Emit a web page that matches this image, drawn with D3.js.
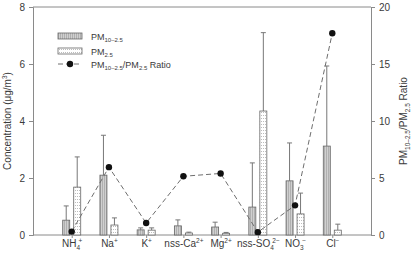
<!DOCTYPE html>
<html>
<head>
<meta charset="utf-8">
<script src="https://cdn.jsdelivr.net/npm/d3@7"></script>
<style>
body{margin:0;background:#fff;}
svg{font-family:"Liberation Sans",Arial,sans-serif;}
</style>
</head>
<body>
<svg id="chart" width="415" height="257"></svg>
<script>
// ions on the x axis: [base, sub, sup]
var ions = [
	["NH", "4", "+"],
	["Na", "", "+"],
	["K", "", "+"],
	["nss-Ca", "", "2+"],
	["Mg", "", "2+"],
	["nss-SO", "4", "2\u2212"],
	["NO", "3", "\u2212"],
	["Cl", "", "\u2212"]
];
var coarse = [0.52, 2.1, 0.18, 0.32, 0.28, 0.98, 1.9, 3.12];
var coarseErr = [1.02, 3.5, 0.25, 0.53, 0.45, 2.53, 3.23, 5.93];
var fine = [1.68, 0.35, 0.17, 0.07, 0.06, 4.35, 0.74, 0.17];
var fineErr = [2.74, 0.6, 0.25, 0.1, 0.09, 7.1, 1.47, 0.38];
var ratio = [0.3, 5.95, 1.05, 5.15, 5.4, 0.25, 2.6, 17.7];
var leftTicks = [0, 2, 4, 6, 8];
var rightTicks = [0, 5, 10, 15, 20];

var svg = d3.select("#chart");
var L = 33, R = 371, T = 7, B = 235;
var axisCol = "#8a8a8a", textCol = "#3a3a3a";

var defs = svg.append("defs");
var p1 = defs.append("pattern").attr("id", "hatch").attr("patternUnits", "userSpaceOnUse")
	.attr("width", 2).attr("height", 2);
p1.append("rect").attr("width", 2).attr("height", 2).attr("fill", "#d0d0d0");
p1.append("rect").attr("width", 1).attr("height", 2).attr("fill", "#b0b0b0");
var p2 = defs.append("pattern").attr("id", "dots").attr("patternUnits", "userSpaceOnUse")
	.attr("width", 2).attr("height", 3);
p2.append("rect").attr("width", 2).attr("height", 3).attr("fill", "#fff");
p2.append("rect").attr("x", 1).attr("y", 1).attr("width", 1).attr("height", 1).attr("fill", "#bdbdbd");

var x = d3.scalePoint().domain(d3.range(ions.length)).range([L, R]).padding(1.04);
var y = d3.scaleLinear().domain([0, 8]).range([B, T]);
var y2 = d3.scaleLinear().domain([0, 20]).range([B, T]);

// frame top line
svg.append("line").attr("x1", L).attr("x2", R).attr("y1", T).attr("y2", T)
	.attr("stroke", axisCol);

var gl = svg.append("g").attr("transform", "translate(" + L + ",0)")
	.call(d3.axisLeft(y).tickValues(leftTicks).tickSize(4).tickPadding(4));
var gr = svg.append("g").attr("transform", "translate(" + R + ",0)")
	.call(d3.axisRight(y2).tickValues(rightTicks).tickSize(4).tickPadding(4));
var gx = svg.append("g").attr("transform", "translate(0," + B + ")")
	.call(d3.axisBottom(x).tickSize(3).tickFormat(""));
[gl, gr, gx].forEach(function(g){
	g.select(".domain").attr("stroke", axisCol);
	g.selectAll(".tick line").attr("stroke", axisCol);
	g.selectAll("text").attr("fill", textCol).style("font-size", "10px");
});
gx.select(".domain").attr("d", "M" + L + ",0H" + R);

// x labels
gx.selectAll(".tick").each(function(d){
	var t = d3.select(this).append("text").attr("y", 12).attr("fill", textCol)
		.attr("text-anchor", "middle").style("font-size", "10px");
	var ion = ions[d];
	t.append("tspan").text(ion[0]);
	if (ion[1]) t.append("tspan").attr("dy", 3).style("font-size", "6.5px").text(ion[1]);
	var sup = t.append("tspan").attr("dy", ion[1] ? -7 : -4).style("font-size", "6.5px").text(ion[2]);
	if (ion[1]) sup.attr("dx", -1.5);
});

// bars
var bw = 7, gap = 2;
var g = svg.append("g");
function drawBars(vals, errs, off, fill){
	g.selectAll(null).data(vals).enter().append("line")
		.attr("x1", function(d, i){ return x(i) + off + bw / 2; })
		.attr("x2", function(d, i){ return x(i) + off + bw / 2; })
		.attr("y1", function(d){ return y(d); })
		.attr("y2", function(d, i){ return y(errs[i]); })
		.attr("stroke", "#777");
	g.selectAll(null).data(vals).enter().append("line")
		.attr("x1", function(d, i){ return x(i) + off + bw / 2 - 2.5; })
		.attr("x2", function(d, i){ return x(i) + off + bw / 2 + 2.5; })
		.attr("y1", function(d, i){ return y(errs[i]); })
		.attr("y2", function(d, i){ return y(errs[i]); })
		.attr("stroke", "#777");
	g.selectAll(null).data(vals).enter().append("rect")
		.attr("x", function(d, i){ return x(i) + off; })
		.attr("y", function(d){ return y(d); })
		.attr("width", bw)
		.attr("height", function(d){ return B - y(d); })
		.attr("fill", fill)
		.attr("stroke", "#666").attr("stroke-width", 0.8);
}
drawBars(coarse, coarseErr, -gap - bw, "url(#hatch)");
drawBars(fine, fineErr, gap, "url(#dots)");

// ratio line
var line = d3.line().x(function(d, i){ return x(i); }).y(function(d){ return y2(d); });
svg.append("path").datum(ratio).attr("d", line).attr("fill", "none")
	.attr("stroke", "#6e6e6e").attr("stroke-width", 1).attr("stroke-dasharray", "5,3");
svg.selectAll(".dot").data(ratio).enter().append("circle")
	.attr("cx", function(d, i){ return x(i); })
	.attr("cy", function(d){ return y2(d); })
	.attr("r", 3.2).attr("fill", "#111");

// axis titles
var lt = svg.append("text").attr("transform", "translate(11," + (T + B) / 2 + ") rotate(-90)")
	.attr("text-anchor", "middle").attr("fill", textCol).style("font-size", "10px");
lt.append("tspan").text("Concentration (\u03bcg/m");
lt.append("tspan").attr("dy", -4).style("font-size", "6.5px").text("3");
lt.append("tspan").attr("dy", 4).text(")");

var rt = svg.append("text").attr("transform", "translate(407," + (T + B) / 2 + ") rotate(-90)")
	.attr("text-anchor", "middle").attr("fill", textCol).style("font-size", "10px");
rt.append("tspan").text("PM");
rt.append("tspan").attr("dy", 3).style("font-size", "6.5px").text("10\u20132.5");
rt.append("tspan").attr("dy", -3).text("/PM");
rt.append("tspan").attr("dy", 3).style("font-size", "6.5px").text("2.5");
rt.append("tspan").attr("dy", -3).text(" Ratio");

// legend
var lg = svg.append("g").attr("transform", "translate(58,33)");
lg.append("rect").attr("width", 24).attr("height", 6).attr("fill", "url(#hatch)").attr("stroke", "#666").attr("stroke-width", 0.8);
lg.append("rect").attr("y", 15).attr("width", 24).attr("height", 6).attr("fill", "url(#dots)").attr("stroke", "#666").attr("stroke-width", 0.8);
lg.append("line").attr("x1", 0).attr("x2", 24).attr("y1", 31).attr("y2", 31)
	.attr("stroke", "#6e6e6e").attr("stroke-dasharray", "5,3");
lg.append("circle").attr("cx", 12).attr("cy", 31).attr("r", 3.2).attr("fill", "#111");
function legText(yy, parts){
	var t = lg.append("text").attr("x", 33).attr("y", yy).attr("fill", textCol).style("font-size", "9px");
	parts.forEach(function(p){
		t.append("tspan").attr("dy", p[1]).style("font-size", p[2] ? "6px" : "9px").text(p[0]);
	});
}
legText(6.5, [["PM", 0], ["10\u20132.5", 2.5, 1]]);
legText(21.5, [["PM", 0], ["2.5", 2.5, 1]]);
legText(34.5, [["PM", 0], ["10\u20132.5", 2.5, 1], ["/PM", -2.5], ["2.5", 2.5, 1], [" Ratio", -2.5]]);
</script>
</body>
</html>
